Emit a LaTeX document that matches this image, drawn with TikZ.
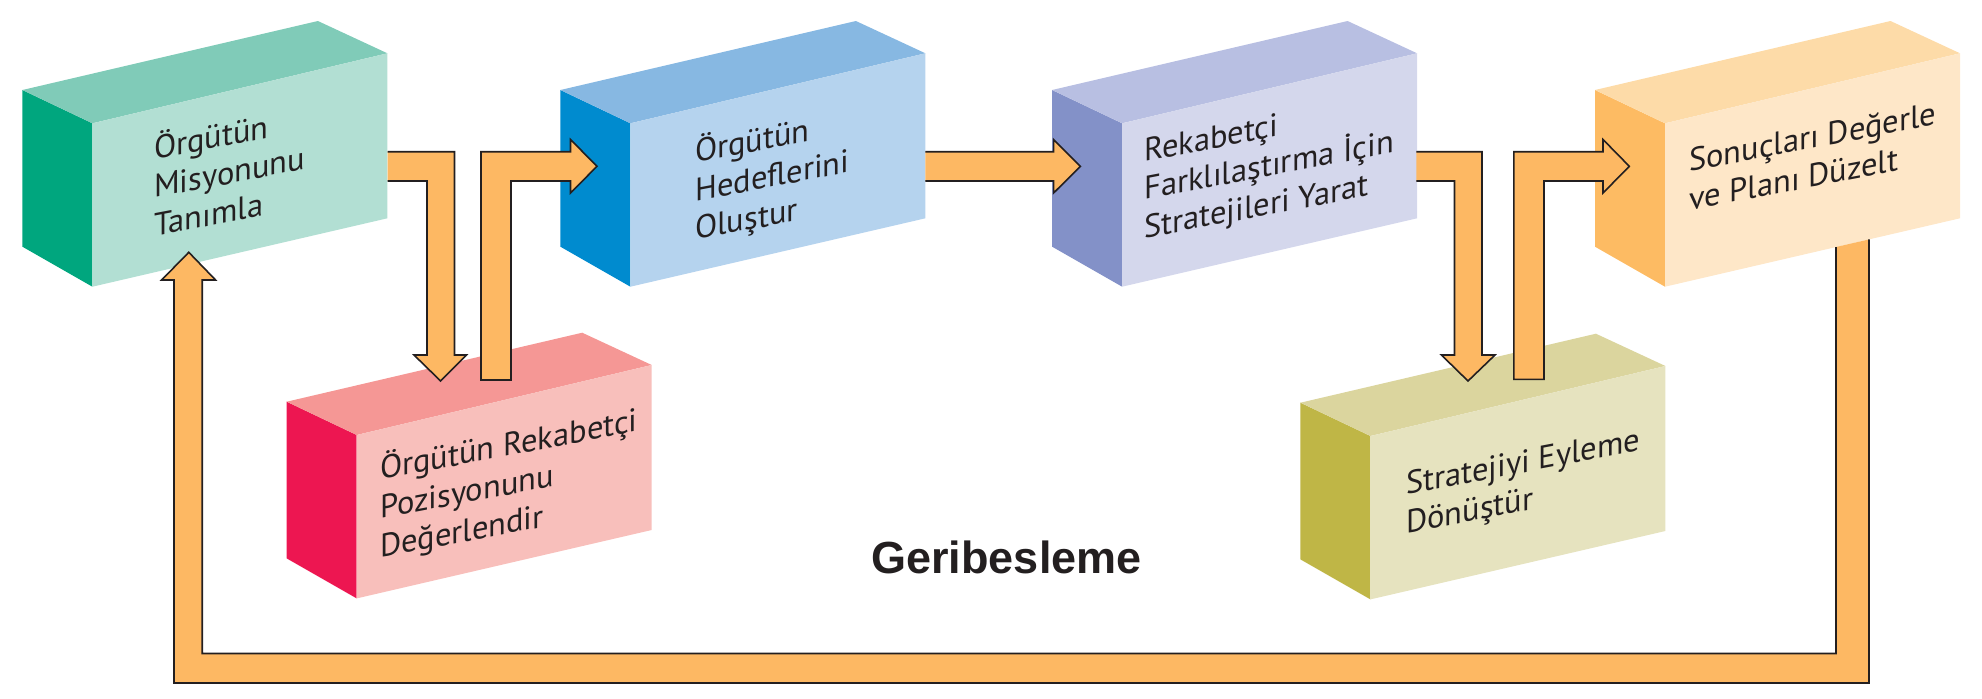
\documentclass[tikz,border=0pt]{standalone}
\usepackage{fontspec}
\setmainfont{PT Sans}
\newfontfamily\gbfont{Liberation Sans}
\usetikzlibrary{calc}
\definecolor{aside}{HTML}{00A67E}\definecolor{atop}{HTML}{80CBB8}\definecolor{afront}{HTML}{B2DFD3}
\definecolor{bside}{HTML}{008BCF}\definecolor{btop}{HTML}{87B8E2}\definecolor{bfront}{HTML}{B5D3EE}
\definecolor{cside}{HTML}{8391C8}\definecolor{ctop}{HTML}{B8BFE2}\definecolor{cfront}{HTML}{D4D7EC}
\definecolor{dside}{HTML}{FDBB63}\definecolor{dtop}{HTML}{FDDBA8}\definecolor{dfront}{HTML}{FEE7C8}
\definecolor{eside}{HTML}{ED1651}\definecolor{etop}{HTML}{F59795}\definecolor{efront}{HTML}{F8BFBB}
\definecolor{fside}{HTML}{BFB646}\definecolor{ftop}{HTML}{DBD59E}\definecolor{ffront}{HTML}{E6E3BF}
\definecolor{arrowfill}{HTML}{FDB863}
\definecolor{ink}{HTML}{231F20}
\newcommand\drawcube[5]{%
  \coordinate (#1) at #2;
  \fill[#3] (#1) -- ($(#1)+(-70,-33.3)$) -- ($(#1)+(-70,123.4)$) -- ($(#1)+(0,163.4)$) -- cycle;
  \fill[#4] (#1) -- ($(#1)+(-70,-33.3)$) -- ($(#1)+(225.5,-102.3)$) -- ($(#1)+(295,-70)$) -- cycle;
  \fill[#5] (#1) -- ($(#1)+(295,-70)$) -- ($(#1)+(295,95)$) -- ($(#1)+(0,163.4)$) -- cycle;
}
\tikzset{
  txt/.style={anchor=base west, inner sep=0pt, text=ink, yslant=0.19,
    font=\fontsize{32.5}{38}\selectfont},
  blockfill/.style={fill=arrowfill},
  blockline/.style={draw=ink, line width=1.6pt, line join=miter},
}
\begin{document}
\begin{tikzpicture}[x=1pt,y=-1pt]
\useasboundingbox (0,0) rectangle (1982,699);
% boxes
\drawcube{b1}{(92.4,123.3)}{aside}{atop}{afront}
\drawcube{b2}{(630.4,123.3)}{bside}{btop}{bfront}
\drawcube{b3}{(1122.1,123.3)}{cside}{ctop}{cfront}
\drawcube{b4}{(1665,123.3)}{dside}{dtop}{dfront}
\drawcube{b5}{(356.7,435)}{eside}{etop}{efront}
\drawcube{b6}{(1370.4,436)}{fside}{ftop}{ffront}
% texts
\node[txt] (t1a) at (154,159.5) {Örgütün};
\node[txt] (t1b) at (154,198) {Misyonunu};
\node[txt] (t1c) at (154,236.5) {Tanımla};
\node[txt] (t2a) at (695,163) {Örgütün};
\node[txt] (t2b) at (695,201.5) {Hedeflerini};
\node[txt] (t2c) at (695,240) {Oluştur};
\node[txt] (t3a) at (1144,161.7) {Rekabetçi};
\node[txt] (t3b) at (1144,200) {Farklılaştırma İçin};
\node[txt] (t3c) at (1144,238.5) {Stratejileri Yarat};
\node[txt] (t4a) at (1689,171.7) {Sonuçları Değerle};
\node[txt] (t4b) at (1689,210.5) {ve Planı Düzelt};
\node[txt] (t5a) at (380,480) {Örgütün Rekabetçi};
\node[txt] (t5b) at (380,519) {Pozisyonunu};
\node[txt] (t5c) at (380,558) {Değerlendir};
\node[txt] (t6a) at (1406,495) {Stratejiyi Eyleme};
\node[txt] (t6b) at (1406,533.5) {Dönüştür};
\node[anchor=base, inner sep=0pt, font=\gbfont\bfseries\fontsize{45}{50}\selectfont, text=ink] (gb) at (1006.5,573.3) {Geribesleme};
% arrow box1 -> box5
\fill[blockfill] (387.5,151.7) -- (454.5,151.7) -- (454.5,355) -- (466.5,355) -- (440.6,381) -- (414,355) -- (427,355) -- (427,181) -- (387.5,181) -- cycle;
\draw[blockline] (387.5,151.7) -- (454.5,151.7) -- (454.5,355) -- (466.5,355) -- (440.6,381) -- (414,355) -- (427,355) -- (427,181) -- (387.5,181);
% arrow box5 -> box2
\filldraw[blockfill, blockline] (481,380) -- (481,151.7) -- (570.5,151.7) -- (570.5,139.5) -- (597,166.3) -- (570.5,193) -- (570.5,181) -- (511,181) -- (511,380) -- cycle;
% arrow box2 -> box3
\fill[blockfill] (925.4,151.7) -- (1053.6,151.7) -- (1053.6,139.5) -- (1080.4,166.3) -- (1053.6,193) -- (1053.6,181) -- (925.4,181) -- cycle;
\draw[blockline] (925.4,151.7) -- (1053.6,151.7) -- (1053.6,139.5) -- (1080.4,166.3) -- (1053.6,193) -- (1053.6,181) -- (925.4,181);
% arrow box3 -> box6
\fill[blockfill] (1416.4,151.7) -- (1482,151.7) -- (1482,355) -- (1495,355) -- (1468,381) -- (1441.4,355) -- (1454.5,355) -- (1454.5,181) -- (1416.4,181) -- cycle;
\draw[blockline] (1416.4,151.7) -- (1482,151.7) -- (1482,355) -- (1495,355) -- (1468,381) -- (1441.4,355) -- (1454.5,355) -- (1454.5,181) -- (1416.4,181);
% arrow box6 -> box4
\filldraw[blockfill, blockline] (1513.8,379.3) -- (1513.8,151.7) -- (1603,151.7) -- (1603,139.5) -- (1629.3,166.3) -- (1603,193) -- (1603,181) -- (1544,181) -- (1544,379.3) -- cycle;
% feedback arrow box4 -> box1
\fill[blockfill] (1869,239.4) -- (1869,683) -- (174,683) -- (174,280) -- (161.6,280) -- (188.8,252.3) -- (215.6,280) -- (202.2,280) -- (202.2,653.5) -- (1836,653.5) -- (1836,247) -- cycle;
\draw[blockline] (1869,239.4) -- (1869,683) -- (174,683) -- (174,280) -- (161.6,280) -- (188.8,252.3) -- (215.6,280) -- (202.2,280) -- (202.2,653.5) -- (1836,653.5) -- (1836,247);
\end{tikzpicture}
\end{document}
